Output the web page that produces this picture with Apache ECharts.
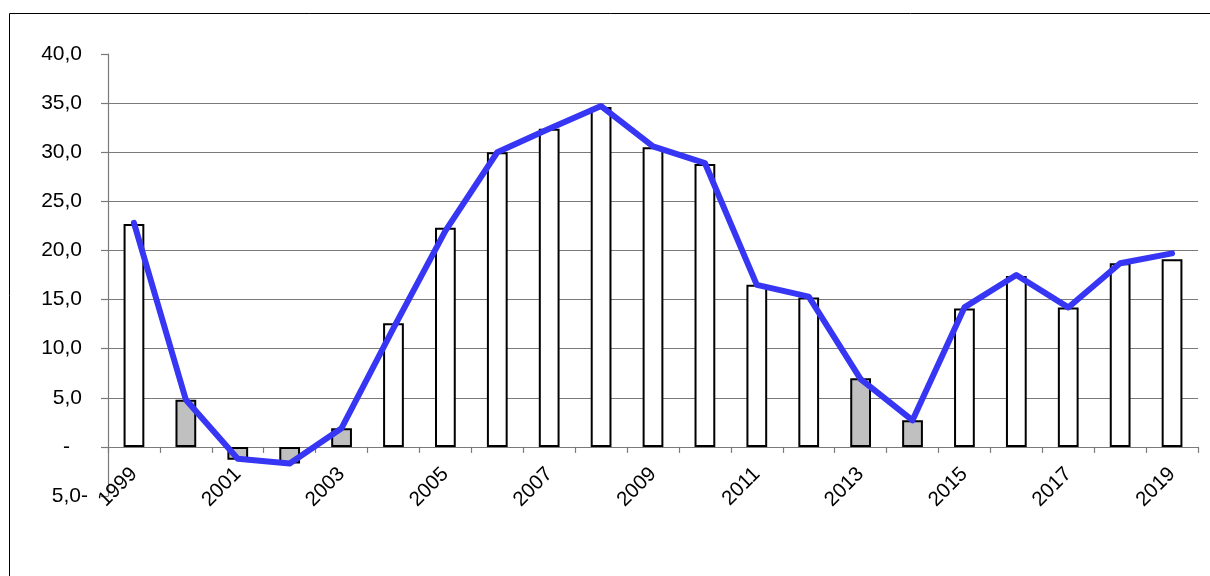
<!DOCTYPE html>
<html>
<head>
<meta charset="utf-8">
<script src="https://cdn.jsdelivr.net/npm/echarts@6/dist/echarts.min.js"></script>
<style>
html,body{margin:0;padding:0;background:#fff;}
#c{width:1210px;height:576px;}
</style>
</head>
<body>
<div id="c"></div>
<script>
var years = ['1999','2000','2001','2002','2003','2004','2005','2006','2007','2008','2009','2010','2011','2012','2013','2014','2015','2016','2017','2018','2019'];
var barValues = [22.7, 4.8, -1.3, -1.7, 1.9, 12.6, 22.3, 30.0, 32.4, 34.6, 30.5, 28.8, 16.5, 15.2, 7.0, 2.7, 14.1, 17.4, 14.2, 18.7, 19.1];
var lineValues = [22.8, 4.8, -1.2, -1.7, 1.9, 12.1, 22.0, 30.0, 32.4, 34.7, 30.6, 28.9, 16.5, 15.3, 6.9, 2.7, 14.2, 17.5, 14.2, 18.7, 19.7];
var yMin = -5, yMax = 40, yStep = 5;

var chart = echarts.init(document.getElementById('c'), null, {renderer: 'canvas'});
var FONT = 'Liberation Sans, Arial, sans-serif';
function fmt(v) { return Math.abs(v).toFixed(1).replace('.', ','); }

chart.setOption({
  animation: false,
  backgroundColor: '#fff',
  textStyle: {fontFamily: FONT},
  graphic: [{
    type: 'rect',
    shape: {x: 9.5, y: 13.5, width: 1230, height: 620},
    style: {fill: 'none', stroke: '#000', lineWidth: 1},
    silent: true, z: -1
  }],
  grid: {left: 108, right: 12, top: 54, bottom: 80, containLabel: false},
  xAxis: {
    type: 'category',
    data: years,
    boundaryGap: true,
    axisLine: {onZero: true, lineStyle: {color: '#7a7a7a', width: 1.2}},
    axisTick: {show: true, inside: false, length: 6, interval: 0, alignWithLabel: false, lineStyle: {color: '#7a7a7a', width: 1.2}},
    axisLabel: {interval: 1, rotate: 45, margin: -25, color: '#000', fontSize: 20.5, fontFamily: FONT},
    splitLine: {show: false}
  },
  yAxis: {
    type: 'value',
    min: yMin, max: yMax, interval: yStep,
    axisLine: {show: true, onZero: false, lineStyle: {color: '#7a7a7a', width: 1.2}},
    axisTick: {show: true, length: 7, lineStyle: {color: '#7a7a7a', width: 1.2}},
    axisLabel: {
      margin: 20, color: '#000', fontSize: 21, fontFamily: FONT,
      formatter: function (v) {
        if (v === 0) return '{z|-}';
        if (v < 0) return '{n|' + fmt(v) + '-}';
        return '{p|' + fmt(v) + '}';
      },
      rich: {
        p: {fontSize: 21, fontFamily: FONT, color: '#000', padding: [0, 6, 0, 0]},
        n: {fontSize: 21, fontFamily: FONT, color: '#000'},
        z: {fontSize: 21, fontFamily: FONT, color: '#000', padding: [0, 18, 0, 0]}
      }
    },
    splitLine: {show: true, showMinLine: false, showMaxLine: false, lineStyle: {color: '#7a7a7a', width: 1.2}}
  },
  series: [{
    type: 'bar',
    data: barValues,
    barWidth: '40%',
    itemStyle: {
      color: function (p) { return p.value < 10 ? '#c0c0c0' : '#ffffff'; },
      borderColor: '#000', borderWidth: 2
    },
    z: 2
  }, {
    type: 'line',
    data: lineValues,
    symbol: 'none',
    lineStyle: {color: '#3636f4', width: 6, cap: 'round', join: 'round'},
    z: 3
  }]
});
</script>
</body>
</html>
